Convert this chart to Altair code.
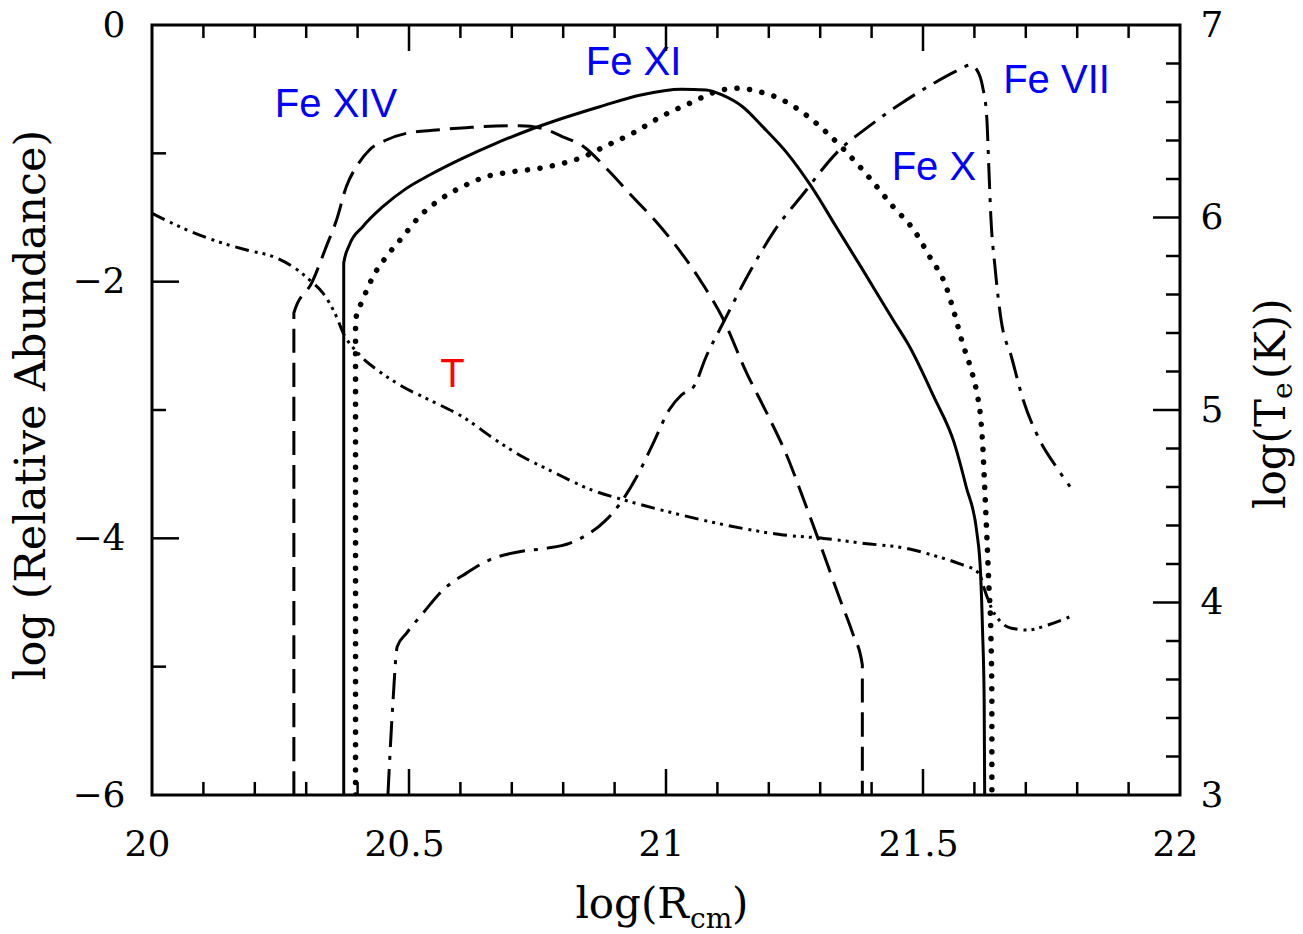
import altair as alt
import pandas as pd

# ---------------- data ----------------
fe14_x = [20.276, 20.276, 20.312, 20.339, 20.359, 20.378, 20.400, 20.423, 20.456, 20.495, 20.553, 20.611,
          20.669, 20.715, 20.759, 20.798, 20.840, 20.887, 20.935, 20.983, 21.030, 21.070, 21.109, 21.157,
          21.196, 21.236, 21.268, 21.299, 21.339, 21.363, 21.382, 21.382]
fe14_y = [-6, -2.244, -2.0, -1.727, -1.52, -1.26, -1.09, -0.974, -0.896, -0.844, -0.818, -0.80,
          -0.787, -0.785, -0.805, -0.87, -0.948, -1.13, -1.338, -1.543, -1.777, -2.01, -2.273, -2.712,
          -3.023, -3.364, -3.70, -4.036, -4.48, -4.738, -4.987, -6]

fe11_x = [20.373, 20.373, 20.384, 20.410, 20.449, 20.495, 20.540, 20.604, 20.669, 20.734, 20.799, 20.871,
          20.951, 21.030, 21.078, 21.109, 21.149, 21.188, 21.236, 21.283, 21.331, 21.379, 21.442, 21.474,
          21.521, 21.561, 21.584, 21.605, 21.612, 21.616, 21.619, 21.620]
fe11_y = [-6, -1.855, -1.714, -1.572, -1.416, -1.273, -1.169, -1.039, -0.922, -0.818, -0.727, -0.637,
          -0.545, -0.501, -0.506, -0.545, -0.637, -0.792, -1.0, -1.26, -1.572, -1.883, -2.299, -2.507,
          -2.896, -3.26, -3.598, -3.961, -4.273, -4.738, -5.26, -6]

fe10_x = [20.396, 20.396, 20.410, 20.430, 20.456, 20.488, 20.520, 20.559, 20.604, 20.650, 20.702, 20.753,
          20.799, 20.840, 20.880, 20.935, 20.990, 21.046, 21.109, 21.141, 21.181, 21.220, 21.268, 21.307,
          21.347, 21.394, 21.442, 21.482, 21.513, 21.545, 21.561, 21.577, 21.592, 21.605, 21.612, 21.616,
          21.620, 21.624, 21.628, 21.632, 21.634, 21.634]
fe10_y = [-6, -2.30, -2.143, -1.961, -1.805, -1.65, -1.494, -1.364, -1.26, -1.182, -1.143, -1.117,
          -1.078, -1.026, -0.948, -0.844, -0.715, -0.61, -0.506, -0.493, -0.52, -0.571, -0.688, -0.818,
          -0.974, -1.182, -1.416, -1.597, -1.805, -2.039, -2.247, -2.48, -2.663, -2.87, -3.052, -3.26,
          -3.598, -3.961, -4.35, -4.74, -5.26, -6]

fe7_x = [20.459, 20.469, 20.477, 20.495, 20.527, 20.566, 20.611, 20.656, 20.715, 20.766, 20.812, 20.840,
         20.880, 20.911, 20.943, 20.975, 21.006, 21.030, 21.054, 21.078, 21.109, 21.165, 21.212, 21.268,
         21.331, 21.394, 21.458, 21.521, 21.569, 21.592, 21.605, 21.616, 21.624, 21.628, 21.632, 21.640,
         21.652, 21.672, 21.695, 21.727, 21.759, 21.786]
fe7_y = [-6, -5.26, -4.845, -4.74, -4.584, -4.403, -4.273, -4.169, -4.104, -4.078, -4.039, -3.987,
         -3.87, -3.727, -3.52, -3.26, -3.0, -2.883, -2.818, -2.585, -2.338, -1.909, -1.597, -1.311,
         -1.0, -0.792, -0.61, -0.454, -0.351, -0.312, -0.351, -0.481, -0.715, -1.104, -1.494, -1.883,
         -2.299, -2.585, -2.922, -3.234, -3.442, -3.598]

temp_x = [20.0, 20.054, 20.119, 20.184, 20.236, 20.274, 20.307, 20.333, 20.359, 20.371, 20.404, 20.443,
          20.488, 20.540, 20.604, 20.669, 20.721, 20.773, 20.856, 20.919, 20.990, 21.070, 21.149, 21.228,
          21.307, 21.386, 21.466, 21.529, 21.569, 21.609, 21.620, 21.632, 21.648, 21.672, 21.704, 21.743,
          21.786]
temp_t = [6.022, 5.952, 5.883, 5.831, 5.796, 5.744, 5.675, 5.606, 5.484, 5.406, 5.286, 5.199,
          5.121, 5.052, 4.965, 4.844, 4.757, 4.688, 4.584, 4.532, 4.481, 4.429, 4.385, 4.351,
          4.333, 4.307, 4.282, 4.238, 4.203, 4.152, 4.065, 3.978, 3.909, 3.866, 3.857, 3.883,
          3.926]

label_text = ["Fe XIV", "Fe XI", "Fe VII", "Fe X", "T"]
label_x = [20.239, 20.844, 21.656, 21.439, 20.561]
label_y = [-0.717, -0.39, -0.532, -1.208, -2.818]
label_color = ["#0000ff", "#0000ff", "#0000ff", "#0000ff", "#ff0000"]

x_tick_labels = [20, 20.5, 21, 21.5, 22]
x_major_ticks = [20.5, 21, 21.5]
x_minor_ticks = [20.1, 20.2, 20.3, 20.4, 20.6, 20.7, 20.8, 20.9, 21.1, 21.2, 21.3, 21.4,
                 21.6, 21.7, 21.8, 21.9]
y_tick_labels = [-6, -4, -2, 0]
y_major_ticks = [-2, -4]
y_minor_ticks = [-1, -3, -5]
t_tick_labels = [3, 4, 5, 6, 7]
t_major_ticks = [4, 5, 6]
t_minor_ticks = [3.2, 3.4, 3.6, 3.8, 4.2, 4.4, 4.6, 4.8, 5.2, 5.4, 5.6, 5.8, 6.2, 6.4, 6.6, 6.8]

# ---------------- layout ----------------
W, H = 1028, 770
SERIF = "DejaVu Serif"

xscale = alt.Scale(domain=[20, 22], nice=False, zero=False)
yscale = alt.Scale(domain=[-6, 0], nice=False, zero=False)
tscale = alt.Scale(domain=[3, 7], nice=False, zero=False)

common_axis = dict(format="~g", ticks=False, tickSize=0, domain=False, grid=False, labelFlush=False,
                   labelOverlap=False, labelFont=SERIF, labelFontSize=36, labelColor="black", title=None)
x_axis = alt.Axis(values=x_tick_labels, labelPadding=32, labelOffset=-5, **common_axis)
y_axis = alt.Axis(values=y_tick_labels, labelPadding=27, labelBaseline="middle", **common_axis)
t_axis = alt.Axis(orient="right", values=t_tick_labels, labelPadding=20, labelBaseline="middle",
                  **common_axis)


def sdf(xs, ys):
    return pd.DataFrame({"x": xs, "y": ys, "i": list(range(len(xs)))})


def line(df, dash=None, width=3.0, cap="butt", scale=yscale, yaxis=y_axis):
    kw = dict(color="black", strokeWidth=width, strokeCap=cap, clip=True, interpolate="monotone")
    if dash is not None:
        kw["strokeDash"] = dash
    return alt.Chart(df).mark_line(**kw).encode(
        x=alt.X("x:Q", scale=xscale, axis=x_axis),
        y=alt.Y("y:Q", scale=scale, axis=yaxis),
        order="i:Q",
    )


fe14 = line(sdf(fe14_x, fe14_y), dash=[24, 10])
fe11 = line(sdf(fe11_x, fe11_y))
fe10 = line(sdf(fe10_x, fe10_y), dash=[0.1, 12.5], width=5.5, cap="round")
fe7 = line(sdf(fe7_x, fe7_y), dash=[26, 9, 4, 9])
temp = line(sdf(temp_x, temp_t), dash=[14, 6, 3, 5, 3, 5, 3, 6], scale=tscale, yaxis=t_axis)


def xticks(vals, y0, y1):
    return alt.Chart(pd.DataFrame({"v": vals})).mark_rule(color="black", strokeWidth=2.5).encode(
        x=alt.X("v:Q", scale=xscale, axis=x_axis), y=alt.value(y0), y2=alt.value(y1))


def yticks(vals, x0, x1, scale, axis):
    return alt.Chart(pd.DataFrame({"v": vals})).mark_rule(color="black", strokeWidth=2.5).encode(
        y=alt.Y("v:Q", scale=scale, axis=axis), x=alt.value(x0), x2=alt.value(x1))


tick_layers = [
    xticks(x_minor_ticks, H, H - 13), xticks(x_major_ticks, H, H - 26),
    xticks(x_minor_ticks, 0, 13), xticks(x_major_ticks, 0, 26),
    yticks(y_minor_ticks, 0, 14, yscale, y_axis), yticks(y_major_ticks, 0, 27, yscale, y_axis),
]
t_tick_layers = [yticks(t_minor_ticks, W - 14, W, tscale, t_axis),
                 yticks(t_major_ticks, W - 27, W, tscale, t_axis)]

labels = alt.Chart(pd.DataFrame({"x": label_x, "y": label_y, "t": label_text, "c": label_color})).mark_text(
    font="Liberation Sans", fontSize=40, align="left", baseline="alphabetic").encode(
    x=alt.X("x:Q", scale=xscale, axis=x_axis), y=alt.Y("y:Q", scale=yscale, axis=y_axis),
    text="t:N", color=alt.Color("c:N", scale=None))


def txt(s, x, y, size=42, angle=0, align="left"):
    kw = dict(font=SERIF, fontSize=size, align=align, baseline="alphabetic", color="black")
    if angle:
        kw["angle"] = angle
    return alt.Chart(pd.DataFrame({"t": [s]})).mark_text(**kw).encode(
        text="t:N", x=alt.value(x), y=alt.value(y))


titles = [
    txt("log (Relative Abundance)", -107, 380, size=43, angle=270, align="center"),
    txt("log(R", 537, 893, align="right"),
    txt("cm", 538, 903, size=28),
    txt(")", 580, 893),
    txt("log(T", 1133, 374, angle=270, align="right"),
    txt("e", 1140, 374, size=28, angle=270),
    txt("(K))", 1133, 354, angle=270),
]

left_group = alt.layer(fe14, fe11, fe10, fe7, labels, *tick_layers, *titles)
right_group = alt.layer(temp, *t_tick_layers)

chart = alt.layer(left_group, right_group).resolve_scale(y="independent").properties(
    width=W, height=H,
    autosize=alt.AutoSizeParams(type="none"),
    padding={"left": 152, "top": 25, "right": 123, "bottom": 139},
    background="white",
).configure_view(stroke="black", strokeWidth=3)

chart.save("out.html", embed_options={"renderer": "svg", "actions": False})
